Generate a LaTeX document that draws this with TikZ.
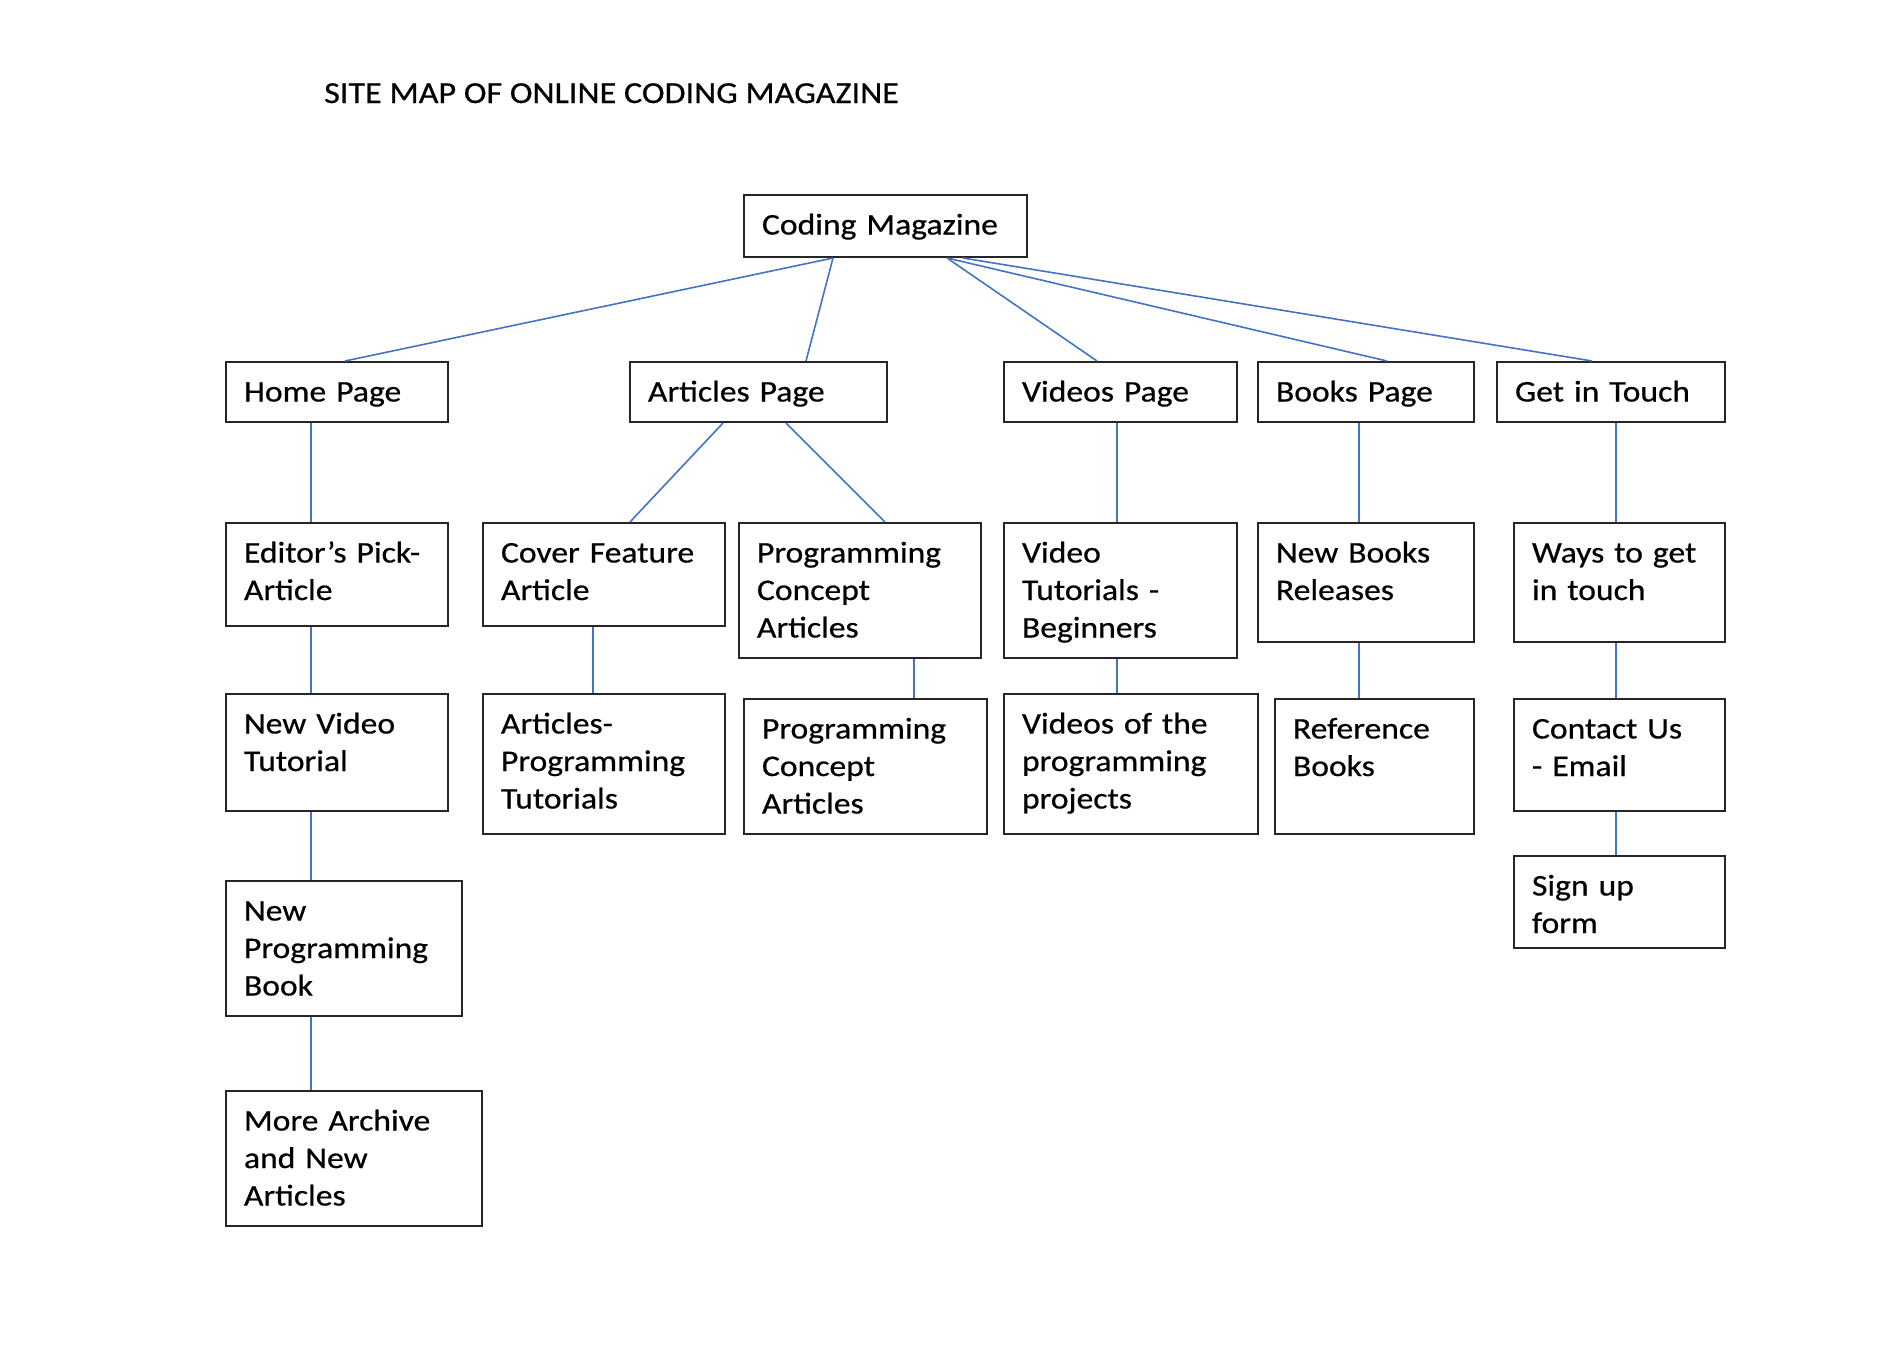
\documentclass[tikz,border=0pt]{standalone}
\usepackage{fontspec}
\setmainfont{Carlito}[FakeStretch=1.12, FakeBold=0.6]
\definecolor{linkblue}{HTML}{4472C4}
\begin{document}
\begin{tikzpicture}[x=1pt, y=-1pt,
  pagebox/.style={draw=black!85, line width=2pt, anchor=north west, align=left,
    inner xsep=18pt, inner ysep=0pt, text height=39.5pt,
    font=\fontsize{30}{37.5}\selectfont},
  link/.style={draw=linkblue, line width=1.6pt}]
\useasboundingbox (0,0) rectangle (1904,1352);

\node[anchor=base west, inner sep=0pt, font=\fontsize{30.5}{36}\selectfont] (title) at (324,103) {SITE MAP OF ONLINE CODING MAGAZINE};

\node[pagebox, text width=247pt, text depth=22.5pt] (cm) at (743,194) {Coding Magazine};

\node[pagebox, text width=186pt, text depth=20.5pt] (home) at (225,361) {Home Page};
\node[pagebox, text width=221pt, text depth=20.5pt] (articles) at (629,361) {Articles Page};
\node[pagebox, text width=197pt, text depth=20.5pt] (videos) at (1003,361) {Videos Page};
\node[pagebox, text width=180pt, text depth=20.5pt] (books) at (1257,361) {Books Page};
\node[pagebox, text width=192pt, text depth=20.5pt] (touch) at (1496,361) {Get in Touch};

\node[pagebox, text width=186pt, text depth=63.5pt] (editor) at (225,522) {Editor’s Pick-\\Article};
\node[pagebox, text width=206pt, text depth=63.5pt] (cover) at (482,522) {Cover Feature\\Article};
\node[pagebox, text width=206pt, text depth=95.5pt] (progA) at (738,522) {Programming\\Concept\\Articles};
\node[pagebox, text width=197pt, text depth=95.5pt] (vidtut) at (1003,522) {Video\\Tutorials -\\Beginners};
\node[pagebox, text width=180pt, text depth=79.5pt] (newbooks) at (1257,522) {New Books\\Releases};
\node[pagebox, text width=175pt, text depth=79.5pt] (ways) at (1513,522) {Ways to get\\in touch};

\node[pagebox, text width=186pt, text depth=77.5pt] (newvid) at (225,693) {New Video\\Tutorial};
\node[pagebox, text width=206pt, text depth=100.5pt] (arttut) at (482,693) {Articles-\\Programming\\Tutorials};
\node[pagebox, text width=207pt, text depth=95.5pt] (progB) at (743,698) {Programming\\Concept\\Articles};
\node[pagebox, text width=218pt, text depth=100.5pt] (vidproj) at (1003,693) {Videos of the\\programming\\projects};
\node[pagebox, text width=163pt, text depth=95.5pt] (refbooks) at (1274,698) {Reference\\Books};
\node[pagebox, text width=175pt, text depth=72.5pt] (contact) at (1513,698) {Contact Us\\- Email};

\node[pagebox, text width=200pt, text depth=95.5pt] (newbook) at (225,880) {New\\Programming\\Book};
\node[pagebox, text width=175pt, text depth=52.5pt] (signup) at (1513,855) {Sign up\\form};

\node[pagebox, text width=220pt, text depth=95.5pt] (archive) at (225,1090) {More Archive\\and New\\Articles};

% top level
\draw[link] ([xshift=90pt]cm.south west) -- ([xshift=120pt]home.north west);
\draw[link] ([xshift=90pt]cm.south west) -- ([xshift=177pt]articles.north west);
\draw[link] ([xshift=204pt]cm.south west) -- ([xshift=94pt]videos.north west);
\draw[link] ([xshift=204pt]cm.south west) -- ([xshift=130pt]books.north west);
\draw[link] ([xshift=220pt]cm.south west) -- ([xshift=96pt]touch.north west);

% second level
\draw[link] ([xshift=86pt]home.south west) -- ([xshift=86pt]editor.north west);
\draw[link] ([xshift=94pt]articles.south west) -- ([xshift=148pt]cover.north west);
\draw[link] ([xshift=157pt]articles.south west) -- ([xshift=147pt]progA.north west);
\draw[link] ([xshift=114pt]videos.south west) -- ([xshift=114pt]vidtut.north west);
\draw[link] ([xshift=102pt]books.south west) -- ([xshift=102pt]newbooks.north west);
\draw[link] ([xshift=120pt]touch.south west) -- ([xshift=103pt]ways.north west);

% further down
\draw[link] ([xshift=86pt]editor.south west) -- ([xshift=86pt]newvid.north west);
\draw[link] ([xshift=111pt]cover.south west) -- ([xshift=111pt]arttut.north west);
\draw[link] ([xshift=176pt]progA.south west) -- ([xshift=171pt]progB.north west);
\draw[link] ([xshift=114pt]vidtut.south west) -- ([xshift=114pt]vidproj.north west);
\draw[link] ([xshift=102pt]newbooks.south west) -- ([xshift=85pt]refbooks.north west);
\draw[link] ([xshift=103pt]ways.south west) -- ([xshift=103pt]contact.north west);
\draw[link] ([xshift=86pt]newvid.south west) -- ([xshift=86pt]newbook.north west);
\draw[link] ([xshift=86pt]newbook.south west) -- ([xshift=86pt]archive.north west);
\draw[link] ([xshift=103pt]contact.south west) -- ([xshift=103pt]signup.north west);
\end{tikzpicture}
\end{document}
